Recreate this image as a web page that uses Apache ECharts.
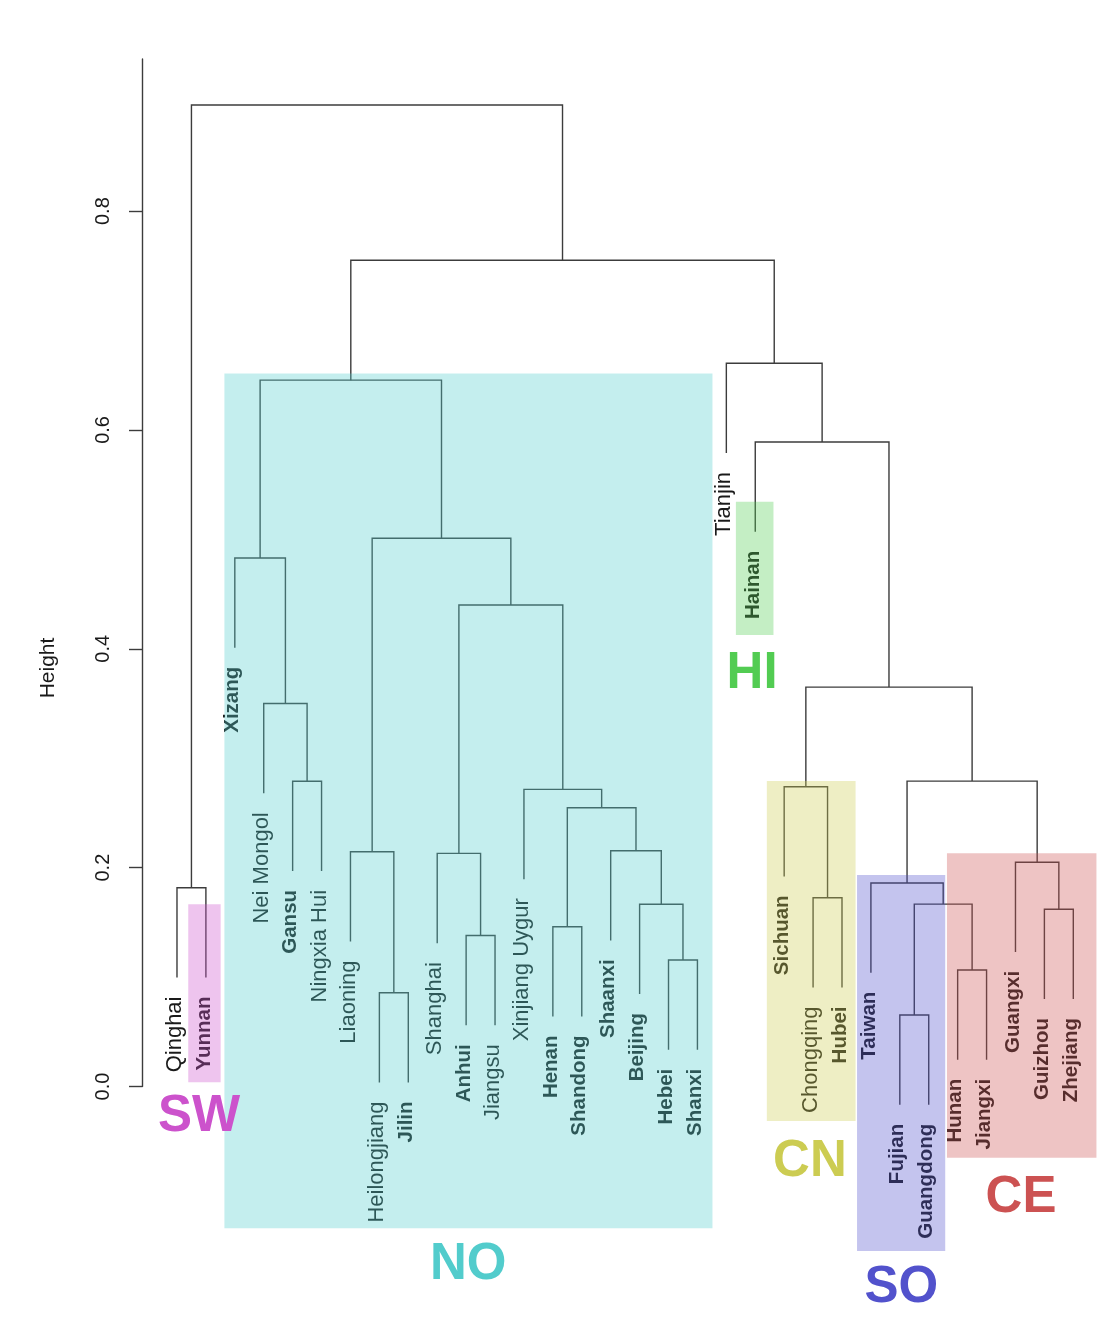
<!DOCTYPE html>
<html>
<head>
<meta charset="utf-8">
<script src="https://cdn.jsdelivr.net/npm/echarts@6/dist/echarts.min.js"></script>
<style>
  html, body { margin: 0; padding: 0; background: #ffffff; }
  #chart { width: 1117px; height: 1331px; }
</style>
</head>
<body>
<div id="chart"></div>
<script>
// Provinces in dendrogram leaf order (left to right)
const leaves = [
  'Qinghai', 'Yunnan', 'Xizang', 'Nei Mongol', 'Gansu', 'Ningxia Hui', 'Liaoning',
  'Heilongjiang', 'Jilin', 'Shanghai', 'Anhui', 'Jiangsu', 'Xinjiang Uygur', 'Henan',
  'Shandong', 'Shaanxi', 'Beijing', 'Hebei', 'Shanxi', 'Tianjin', 'Hainan', 'Sichuan',
  'Chongqing', 'Hubei', 'Taiwan', 'Fujian', 'Guangdong', 'Hunan', 'Jiangxi', 'Guangxi',
  'Guizhou', 'Zhejiang'
];

// Provinces whose labels are set in bold
const boldLeaves = [
  'Yunnan', 'Xizang', 'Gansu', 'Jilin', 'Anhui', 'Henan', 'Shandong', 'Shaanxi',
  'Beijing', 'Hebei', 'Shanxi', 'Hainan', 'Sichuan', 'Hubei', 'Taiwan', 'Fujian',
  'Guangdong', 'Hunan', 'Jiangxi', 'Guangxi', 'Guizhou', 'Zhejiang'
];

// hclust-style merge table: negative = leaf number (1-based), positive = earlier merge
const merges = [
  [-1, -2], [-5, -6], [-4, 2], [-3, 3], [-8, -9], [-7, 5], [-11, -12], [-10, 7],
  [-14, -15], [-18, -19], [-17, 10], [-16, 11], [9, 12], [-13, 13], [8, 14], [6, 15],
  [4, 16], [-23, -24], [-22, 18], [-26, -27], [-28, -29], [20, 21], [-25, 22],
  [-31, -32], [-30, 24], [23, 25], [19, 26], [-21, 27], [-20, 28], [17, 29], [1, 30]
];

// Height of each merge
const mergeHeights = [
  0.1816, 0.279, 0.350, 0.483, 0.0857, 0.2145, 0.138, 0.213,
  0.146, 0.1156, 0.1665, 0.2155, 0.2547, 0.2715, 0.440, 0.501,
  0.6455, 0.1725, 0.274, 0.0653, 0.1064, 0.1667, 0.186,
  0.162, 0.205, 0.2791, 0.365, 0.589, 0.661, 0.7551, 0.897
];

// How far leaf branches hang below their merge
const hang = 0.082;

// Height axis tick values
const heightTicks = [0, 0.2, 0.4, 0.6, 0.8];

// Regional clusters
const groupNames = ['SW', 'NO', 'HI', 'CN', 'SO', 'CE'];
const groupColors = ['#CC52CC', '#52CCCC', '#52CC52', '#CCCC52', '#5252CC', '#CC5252'];

// Shaded cluster boxes and their captions, in axis units (leaf number, height)
const groupLayout = [
  { box: [1.39, 2.51, 0.1665, 0.0038], caption: [1.76, -0.028] },
  { box: [2.64, 19.52, 0.6516, -0.1296], caption: [11.07, -0.163] },
  { box: [20.33, 21.63, 0.5343, 0.4125], caption: [20.89, 0.377] },
  { box: [21.40, 24.47, 0.2791, -0.0315], caption: [22.89, -0.069] },
  { box: [24.52, 27.57, 0.1932, -0.1503], caption: [26.05, -0.184] },
  { box: [27.63, 32.80, 0.2131, -0.0651], caption: [30.19, -0.102] }
];

// ---- build dendrogram links from the merge table ----
const nodeX = [];
const leafEnd = new Array(leaves.length).fill(0);
const links = [];
merges.forEach(function (m, i) {
  const h = mergeHeights[i];
  const ends = m.map(function (c) {
    if (c < 0) {
      leafEnd[-c - 1] = h - hang;
      return [-c, h - hang];
    }
    return [nodeX[c - 1], mergeHeights[c - 1]];
  });
  nodeX[i] = (ends[0][0] + ends[1][0]) / 2;
  links.push([ends[0][0], ends[1][0], h, ends[0][1], ends[1][1]]);
});

const leafData = leaves.map(function (name, i) { return [i + 1, leafEnd[i]]; });
const FONT = '"Liberation Sans", Arial, Helvetica, sans-serif';

const chart = echarts.init(document.getElementById('chart'), null, { renderer: 'canvas' });

chart.setOption({
  backgroundColor: '#ffffff',
  animation: false,
  grid: { left: 142, top: 59, width: 966, height: 1027.5 },
  xAxis: { type: 'value', min: -0.21, max: 33.2, show: false },
  yAxis: {
    type: 'value',
    min: 0,
    max: 0.939,
    axisLine: { show: true, onZero: false, lineStyle: { color: '#3c3c3c', width: 1.4 } },
    axisTick: { show: true, length: 13, customValues: heightTicks, lineStyle: { color: '#3c3c3c', width: 1.4 } },
    axisLabel: {
      show: true,
      rotate: 90,
      margin: 29,
      customValues: heightTicks,
      fontSize: 20,
      color: '#1a1a1a',
      fontFamily: FONT,
      formatter: function (v) { return v.toFixed(1); }
    },
    splitLine: { show: false }
  },
  graphic: [
    {
      // axis title, centred on the whole plotting region
      type: 'text',
      x: 48,
      y: 668,
      rotation: Math.PI / 2,
      style: {
        text: 'Height',
        fontSize: 21,
        fontFamily: FONT,
        fill: '#1a1a1a',
        align: 'center',
        verticalAlign: 'middle'
      }
    }
  ],
  series: [
    {
      // dendrogram branches
      type: 'custom',
      coordinateSystem: 'cartesian2d',
      clip: false,
      z: 2,
      data: links,
      encode: { x: [0, 1], y: [2, 3, 4] },
      renderItem: function (params, api) {
        const xl = api.value(0), xr = api.value(1), h = api.value(2);
        const bl = api.value(3), br = api.value(4);
        return {
          type: 'polyline',
          shape: { points: [api.coord([xl, bl]), api.coord([xl, h]), api.coord([xr, h]), api.coord([xr, br])] },
          style: { stroke: '#3c3c3c', lineWidth: 1.4, fill: null }
        };
      }
    },
    {
      // leaf labels, hanging below each branch end
      type: 'custom',
      coordinateSystem: 'cartesian2d',
      clip: false,
      z: 2,
      data: leafData,
      encode: { x: 0, y: 1 },
      renderItem: function (params, api) {
        const name = leaves[params.dataIndex];
        const bold = boldLeaves.indexOf(name) >= 0;
        const p = api.coord([api.value(0), api.value(1)]);
        return {
          type: 'text',
          x: p[0] - 2,
          y: p[1] + 19,
          rotation: Math.PI / 2,
          style: {
            text: name,
            fontSize: bold ? 20.5 : 22,
            fontWeight: bold ? 'bold' : 'normal',
            fontFamily: FONT,
            fill: '#1a1a1a',
            align: 'right',
            verticalAlign: 'middle'
          }
        };
      }
    },
    {
      // translucent cluster boxes laid over the tree
      type: 'custom',
      coordinateSystem: 'cartesian2d',
      clip: false,
      z: 5,
      data: groupLayout.map(function (g) { return g.box; }),
      encode: { x: [0, 1], y: [2, 3] },
      renderItem: function (params, api) {
        const a = api.coord([api.value(0), api.value(2)]);
        const b = api.coord([api.value(1), api.value(3)]);
        return {
          type: 'rect',
          shape: { x: a[0], y: a[1], width: b[0] - a[0], height: b[1] - a[1] },
          style: { fill: groupColors[params.dataIndex], opacity: 0.34 }
        };
      }
    },
    {
      // cluster captions
      type: 'custom',
      coordinateSystem: 'cartesian2d',
      clip: false,
      z: 6,
      data: groupLayout.map(function (g) { return g.caption; }),
      encode: { x: 0, y: 1 },
      renderItem: function (params, api) {
        const p = api.coord([api.value(0), api.value(1)]);
        return {
          type: 'text',
          x: p[0],
          y: p[1],
          style: {
            text: groupNames[params.dataIndex],
            fontSize: 51,
            fontWeight: 'bold',
            fontFamily: FONT,
            fill: groupColors[params.dataIndex],
            align: 'center',
            verticalAlign: 'middle'
          }
        };
      }
    }
  ]
});
</script>
</body>
</html>
